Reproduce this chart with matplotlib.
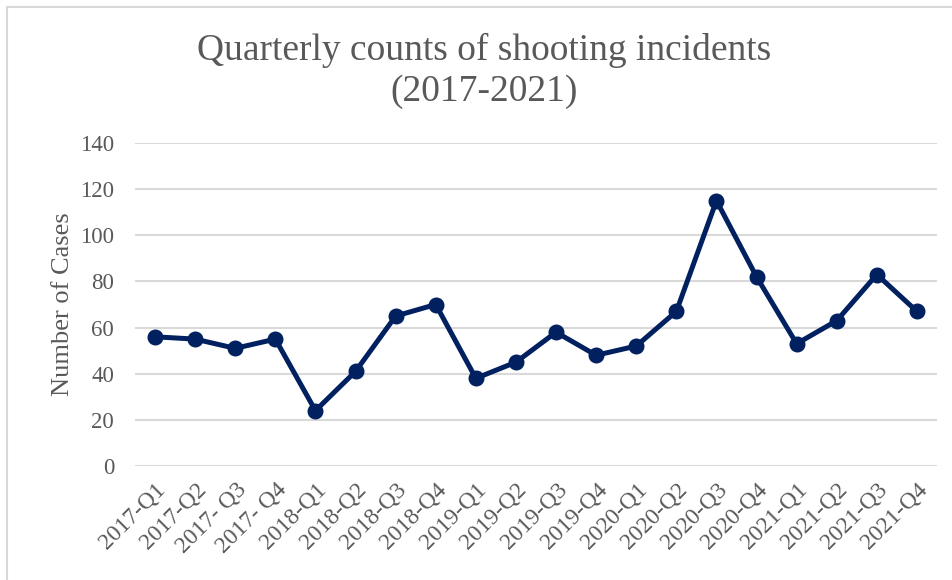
import matplotlib.pyplot as plt
from matplotlib.lines import Line2D

# quarterly shooting incident counts
quarters = ["2017-Q1", "2017-Q2", "2017- Q3", "2017- Q4",
            "2018-Q1", "2018-Q2", "2018-Q3", "2018-Q4",
            "2019-Q1", "2019-Q2", "2019-Q3", "2019-Q4",
            "2020-Q1", "2020-Q2", "2020-Q3", "2020-Q4",
            "2021-Q1", "2021-Q2", "2021-Q3", "2021-Q4"]
cases = [56, 55, 51, 55, 24, 41, 65, 70, 38, 45,
         58, 48, 52, 67, 115, 82, 53, 63, 83, 67]
y_ticks = [0, 20, 40, 60, 80, 100, 120, 140]

TEXT = "#595959"
GRID = "#d9d9d9"
LINE = "#002060"

plt.rcParams["font.family"] = ["Liberation Serif", "DejaVu Serif"]

fig = plt.figure(figsize=(9.52, 5.8), dpi=100)
ax = fig.add_axes([135 / 952, 1 - 466 / 580, 802 / 952, 323 / 580])

x = list(range(len(quarters)))
ax.plot(x, cases, color=LINE, lw=3.6, marker="o", markersize=10.5,
        solid_joinstyle="round", zorder=3)

ax.set_xlim(-0.5, len(quarters) - 0.5)
ax.set_ylim(0, 140)
ax.set_yticks(y_ticks)
ax.set_yticklabels([str(v) for v in y_ticks], fontsize=16.5, color=TEXT)
ax.set_xticks(x)
ax.set_xticklabels(quarters, rotation=45, ha="right", rotation_mode="anchor",
                   fontsize=17, color=TEXT)
ax.tick_params(length=0)
ax.tick_params(axis="y", pad=15)
ax.tick_params(axis="x", pad=9)
ax.grid(axis="y", color=GRID, lw=1.5)
ax.set_axisbelow(True)
for s in ax.spines.values():
    s.set_visible(False)

ax.set_ylabel("Number of Cases", fontsize=19, color=TEXT, labelpad=4)

fig.text(484 / 952, 1 - 71 / 580, "Quarterly counts of shooting incidents\n(2017-2021)",
         ha="center", va="center", fontsize=27, color=TEXT, linespacing=1.22)

# chart area border (top and left edges)
fig.add_artist(Line2D([7 / 952, 1], [1 - 7 / 580, 1 - 7 / 580],
                      transform=fig.transFigure, color=GRID, lw=1.5))
fig.add_artist(Line2D([7 / 952, 7 / 952], [0, 1 - 7 / 580],
                      transform=fig.transFigure, color=GRID, lw=1.5))

fig.savefig("out.png", dpi=100, facecolor="white")
